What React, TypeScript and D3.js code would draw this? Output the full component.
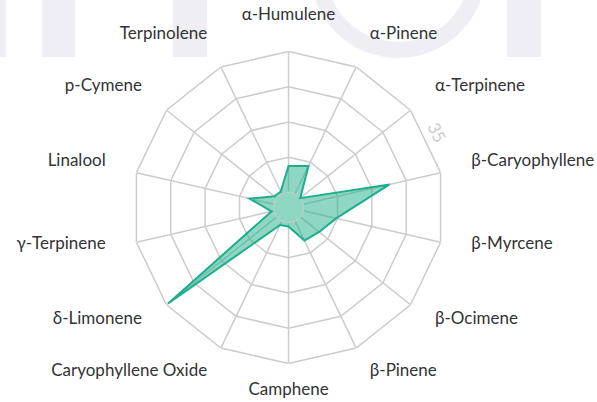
import React, { useEffect, useRef } from 'react'
import * as d3 from 'd3'

const categories = [
  'α-Humulene', 'α-Pinene', 'α-Terpinene', 'β-Caryophyllene', 'β-Myrcene',
  'β-Ocimene', 'β-Pinene', 'Camphene', 'Caryophyllene Oxide', 'δ-Limonene',
  'γ-Terpinene', 'Linalool', 'p-Cymene', 'Terpinolene',
]
const values = [6.6, 7.7, 0, 22, 8.4, 6, 5.4, 1, 1.1, 34.5, 0.6, 6.2, 0.75, 0.7]
const radiusTicks = [0, 8.75, 17.5, 26.25, 35]
const radiusLabels = ['', '', '', '', '35']

const W = 597
const H = 402

function drawRadar(el: SVGSVGElement) {
  const svg = d3.select(el)
  svg.selectAll('*').remove()

  // faint watermark behind the chart
  const wm = svg.append('g').attr('fill', '#eeeef4')
  ;[[0, 6], [42, 75], [173, 207], [507, 541]].forEach(([a, b]) => {
    wm.append('rect').attr('x', a).attr('y', 0).attr('width', b - a).attr('height', 57)
  })
  wm.append('path')
    .attr('d', d3.arc()({ innerRadius: 72, outerRadius: 88, startAngle: Math.PI / 2, endAngle: 3 * Math.PI / 2 }) as string)
    .attr('transform', 'translate(398,-30)')

  const cx = 288.5
  const cy = 207.5
  const r = d3.scaleLinear().domain([0, 35]).range([15, 156])
  const n = categories.length
  const ang = d3.scaleLinear().domain([0, n]).range([0, 2 * Math.PI])
  const pt = (i: number, rad: number): [number, number] => [
    cx + rad * Math.sin(ang(i)),
    cy - rad * Math.cos(ang(i)),
  ]

  const grid = svg.append('g').attr('fill', 'none').attr('stroke', '#cccccc').attr('stroke-width', 1.5)
  radiusTicks.slice(1).forEach(t => {
    grid.append('path')
      .attr('d', d3.line()(d3.range(n).map(i => pt(i, r(t)))) + 'Z')
  })
  d3.range(n).forEach(i => {
    const [x1, y1] = pt(i, r(0))
    const [x2, y2] = pt(i, r(35))
    grid.append('line').attr('x1', x1).attr('y1', y1).attr('x2', x2).attr('y2', y2)
    const [x3, y3] = pt(i, r(35) + 8)
    svg.append('line').attr('x1', x2).attr('y1', y2).attr('x2', x3).attr('y2', y3)
      .attr('stroke', '#ffffff').attr('stroke-width', 1.5)
  })

  const poly = d3.range(n).map(i => pt(i, r(values[i])))
  svg.append('path')
    .attr('d', d3.line()(poly) + 'Z')
    .attr('fill', '#1daf8c')
    .attr('fill-opacity', 0.5)

  svg.append('circle')
    .attr('cx', cx).attr('cy', cy).attr('r', r(0))
    .attr('fill', '#8ed7c4')
    .attr('stroke', '#b3cfc7')
    .attr('stroke-width', 1.5)

  svg.append('path')
    .attr('d', d3.line()(poly) + 'Z')
    .attr('fill', 'none')
    .attr('stroke', '#1daf8c')
    .attr('stroke-width', 2)

  // category labels
  svg.append('g')
    .selectAll('text')
    .data(categories)
    .join('text')
    .attr('x', (d, i) => cx + 187.5 * Math.sin(ang(i)))
    .attr('y', (d, i) => cy - 6 - 187.5 * Math.cos(ang(i)))
    .attr('dy', '0.35em')
    .attr('text-anchor', (d, i) => {
      const s = Math.sin(ang(i))
      return s > 0.01 ? 'start' : s < -0.01 ? 'end' : 'middle'
    })
    .attr('font-family', 'Lato, sans-serif')
    .attr('font-size', 17)
    .attr('fill', '#333333')
    .text(d => d)

  // radius tick label
  const la = 63.2
  radiusTicks.forEach((t, k) => {
    if (!radiusLabels[k]) return
    const rr = r(t) + 10
    const x = cx + rr * Math.sin(la * Math.PI / 180)
    const y = cy - rr * Math.cos(la * Math.PI / 180)
    svg.append('text')
      .attr('transform', `translate(${x},${y}) rotate(${la})`)
      .attr('text-anchor', 'middle')
      .attr('dy', '0.35em')
      .attr('font-family', 'Lato, sans-serif')
      .attr('font-size', 17)
      .attr('fill', '#cccccc')
      .text(radiusLabels[k])
  })
}

export default function App() {
  const ref = useRef<SVGSVGElement>(null)
  useEffect(() => {
    if (ref.current) drawRadar(ref.current)
  }, [])
  return (
    <svg
      ref={ref}
      width={W}
      height={H}
      style={{ position: 'fixed', left: 0, top: 0, background: '#ffffff' }}
    />
  )
}
